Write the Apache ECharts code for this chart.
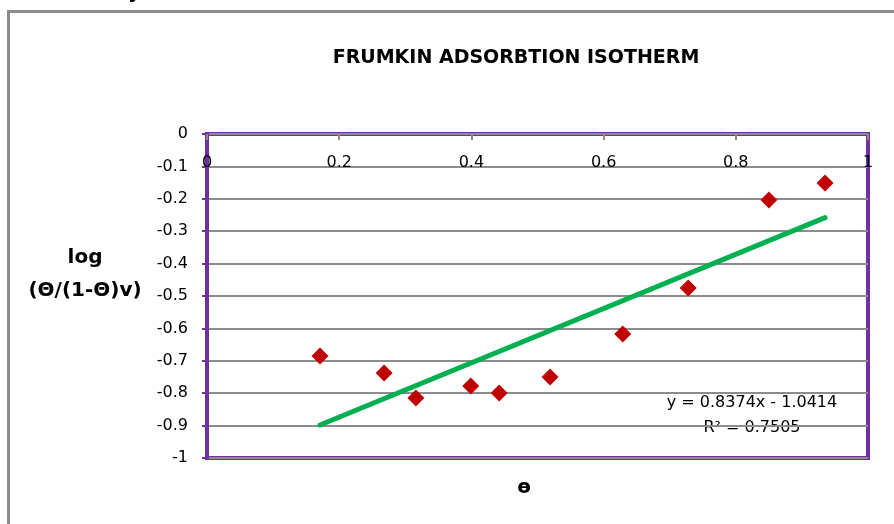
<!DOCTYPE html>
<html>
<head>
<meta charset="utf-8">
<script src="https://cdn.jsdelivr.net/npm/echarts@6/dist/echarts.min.js"></script>
<style>
  html, body { margin: 0; padding: 0; background: #fff; }
  #chart { width: 894px; height: 524px; }
</style>
</head>
<body>
<div id="chart"></div>
<script>
// measured points (theta vs log(theta/(1-theta)v))
const thetaVals = [0.171, 0.268, 0.316, 0.399, 0.442, 0.519, 0.629, 0.728, 0.850, 0.935]
const logVals = [-0.685, -0.738, -0.815, -0.778, -0.799, -0.750, -0.617, -0.475, -0.204, -0.151]
// linear trendline ends
const trendX = [0.171, 0.935]
const trendY = [-0.898, -0.258]
const eqText = 'y = 0.8374x - 1.0414'
const r2Text = 'R² = 0.7505'

const font = 'DejaVu Sans'
const chart = echarts.init(document.getElementById('chart'))

const option = {
    animation: false,
    backgroundColor: '#fff',
    grid: {
        left: 207,
        top: 134,
        right: 26,
        bottom: 66,
        show: true,
        borderColor: '#7030a0',
        borderWidth: 4
    },
    xAxis: {
        type: 'value',
        position: 'top',
        min: 0,
        max: 1,
        interval: 0.2,
        axisLine: { show: false },
        axisTick: {
            show: true,
            inside: true,
            length: 6,
            lineStyle: { color: '#8c8c8c', width: 2 }
        },
        axisLabel: {
            inside: true,
            margin: 21,
            color: '#000',
            fontFamily: font,
            fontSize: 16
        },
        splitLine: { show: false }
    },
    yAxis: {
        type: 'value',
        min: -1,
        max: 0,
        interval: 0.1,
        axisLine: { show: true, lineStyle: { color: '#7030a0', width: 4 } },
        axisTick: {
            show: true,
            length: 5,
            lineStyle: { color: '#7030a0', width: 2 }
        },
        axisLabel: {
            margin: 19,
            color: '#000',
            fontFamily: font,
            fontSize: 16
        },
        splitLine: { show: true, lineStyle: { color: '#8c8c8c', width: 2 } }
    },
    series: [
        {
            name: 'trend',
            type: 'line',
            data: trendX.map((x, i) => [x, trendY[i]]),
            symbol: 'none',
            lineStyle: { color: '#00b050', width: 5, cap: 'round' },
            z: 2
        },
        {
            name: 'points',
            type: 'scatter',
            data: thetaVals.map((x, i) => [x, logVals[i]]),
            symbol: 'diamond',
            symbolSize: 17,
            itemStyle: { color: '#c00000', opacity: 1 },
            z: 3
        }
    ],
    graphic: [
        {
            type: 'rect',
            shape: { x: 8.5, y: 11.5, width: 1000, height: 1000 },
            style: { fill: 'none', stroke: '#8c8c8c', lineWidth: 3 },
            silent: true
        },
        {
            type: 'text',
            x: 128, y: -17,
            style: { text: 'y', font: 'bold 20px "DejaVu Sans"', fill: '#000' }
        },
        {
            type: 'text',
            x: 516, y: 58,
            style: {
                text: 'FRUMKIN ADSORBTION ISOTHERM',
                font: 'bold 19px "DejaVu Sans"', fill: '#000',
                align: 'center', verticalAlign: 'middle'
            }
        },
        {
            type: 'text',
            x: 85, y: 258,
            style: {
                text: 'log',
                font: 'bold 20px "DejaVu Sans"', fill: '#000',
                align: 'center', verticalAlign: 'middle'
            }
        },
        {
            type: 'text',
            x: 85, y: 291,
            style: {
                text: '(Θ/(1-Θ)v)',
                font: 'bold 20px "DejaVu Sans"', fill: '#000',
                align: 'center', verticalAlign: 'middle'
            }
        },
        {
            type: 'text',
            x: 524, y: 488,
            style: {
                text: 'ɵ',
                font: 'bold 20px "DejaVu Sans"', fill: '#000',
                align: 'center', verticalAlign: 'middle'
            }
        },
        {
            type: 'text',
            x: 752, y: 403,
            style: {
                text: eqText,
                font: '16px "DejaVu Sans"', fill: '#000',
                align: 'center', verticalAlign: 'middle'
            }
        },
        {
            type: 'text',
            x: 752, y: 428,
            style: {
                text: r2Text,
                font: '16px "DejaVu Sans"', fill: '#000',
                align: 'center', verticalAlign: 'middle'
            }
        }
    ]
}

chart.setOption(option)
</script>
</body>
</html>
